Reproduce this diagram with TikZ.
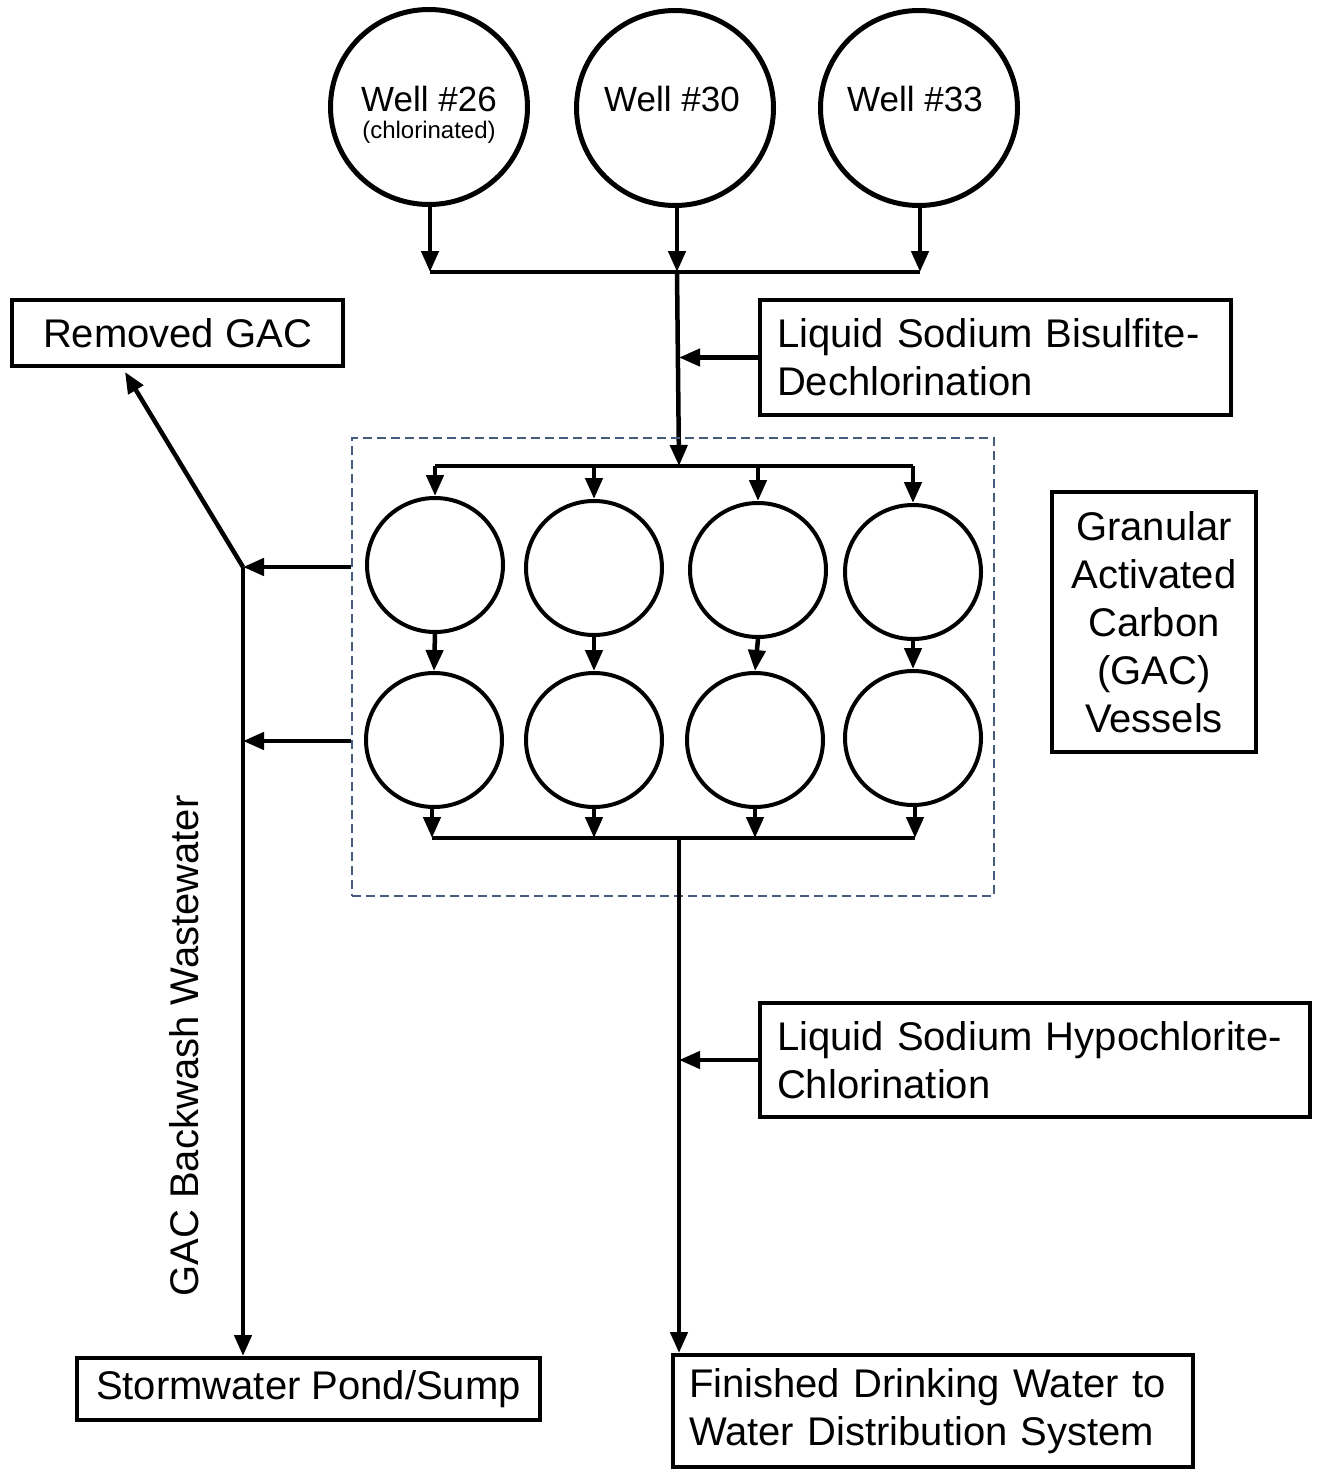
\documentclass[tikz,border=0pt]{standalone}
\usepackage{fontspec}
\setmainfont{Liberation Sans}
\usetikzlibrary{arrows.meta,shapes.geometric}
\begin{document}
\begin{tikzpicture}[x=1pt,y=-1pt,
  flow/.style={line width=4.5pt},
  arr/.style={line width=4.5pt,-{Triangle[length=21pt,width=17pt]}},
  well/.style={draw,ellipse,line width=5pt,minimum width=197pt,minimum height=195pt,inner sep=0pt},
  vessel/.style={draw,ellipse,line width=4pt,minimum width=136pt,minimum height=134pt,inner sep=0pt},
  box/.style={draw,line width=4pt,inner sep=0pt,font=\fontsize{40}{48}\selectfont},
  welltext/.style={font=\fontsize{35}{40}\selectfont,anchor=base,inner sep=0pt},
  smalltext/.style={font=\fontsize{24}{28}\selectfont,anchor=base,inner sep=0pt},
  frame/.style={draw={rgb,255:red,70;green,92;blue,125},dashed,line width=1.8pt,dash pattern=on 9pt off 5pt,inner sep=0pt}
]
\useasboundingbox (0,0) rectangle (1318,1469);

% wells
\node[well] (w26) at (429,107) {};
\node[well] (w30) at (675,108) {};
\node[well] (w33) at (919,108) {};
\node[welltext] (w26t) at (429,112) {Well \#26};
\node[smalltext] (w26s) at (429,139) {(chlorinated)};
\node[welltext] (w30t) at (672,112) {Well \#30};
\node[welltext] (w33t) at (915,112) {Well \#33};

% collector bus
\coordinate (b1L) at (430,272);
\coordinate (b1C) at (677,272);
\coordinate (b1R) at (920,272);
\draw[flow] (b1L) -- (b1R);
\draw[arr] (w26.south -| b1L) -- (b1L);
\draw[arr] (w30.south -| b1C) -- (b1C);
\draw[arr] (w33.south -| b1R) -- (b1R);

% distribution bar
\coordinate (b2C) at (679,466);
\coordinate (b2L) at (435,466);
\coordinate (b2R) at (913,466);
\draw[arr] (b1C) -- (b2C);
\draw[flow] (b2L) -- (b2R);

% boxes
\node[box,minimum width=331pt,minimum height=66pt] (removed) at (177.5,333) {Removed GAC};
\node[box,minimum width=471pt,minimum height=115pt,text width=437pt,align=left] (bis) at (995.5,357.5) {Liquid Sodium Bisulfite-\\Dechlorination};
\node[box,minimum width=204pt,minimum height=260pt,align=center] (gacbox) at (1154,622) {Granular\\Activated\\Carbon\\(GAC)\\Vessels};
\node[box,minimum width=550pt,minimum height=114pt,text width=516pt,align=left] (hypo) at (1035,1060) {Liquid Sodium Hypochlorite-\\Chlorination};
\node[box,minimum width=463pt,minimum height=62pt] (storm) at (308.5,1389) {Stormwater Pond/Sump};
\node[box,minimum width=520pt,minimum height=112pt,text width=488pt,align=left] (fin) at (933,1411) {Finished Drinking Water to\\Water Distribution System};

\draw[arr] (bis.west) -- (bis.west -| b2C);

% GAC frame
\node[frame,minimum width=642pt,minimum height=458pt] (gacframe) at (673,667) {};

% vessels
\node[vessel] (v11) at (435,565) {};
\node[vessel] (v12) at (594,568) {};
\node[vessel] (v13) at (758,570) {};
\node[vessel] (v14) at (913,572) {};
\node[vessel] (v21) at (434,740) {};
\node[vessel] (v22) at (594,740) {};
\node[vessel] (v23) at (755,740) {};
\node[vessel] (v24) at (913,738) {};

\draw[arr] (b2L) -- (v11.north);
\draw[arr] (v12.north |- b2L) -- (v12.north);
\draw[arr] (v13.north |- b2L) -- (v13.north);
\draw[arr] (b2R) -- (v14.north);

\draw[arr] (v11.south) -- (v21.north);
\draw[arr] (v12.south) -- (v22.north);
\draw[arr] (v13.south) -- (v23.north);
\draw[arr] (v14.south) -- (v24.north);

% collection bar
\coordinate (b3L) at (432,838);
\coordinate (b3R) at (915,838);
\draw[flow] (b3L) -- (b3R);
\draw[arr] (v21.south -| b3L) -- (b3L);
\draw[arr] (v22.south) -- (v22.south |- b3L);
\draw[arr] (v23.south) -- (v23.south |- b3L);
\draw[arr] (v24.south -| b3R) -- (b3R);

% output line
\coordinate (out) at (679,838);
\draw[arr] (out) -- (out |- fin.north);
\draw[arr] (hypo.west) -- (hypo.west -| out);

% backwash
\coordinate (j1) at (243,567);
\coordinate (j2) at (243,741);
\coordinate (rtip) at (125,372);
\draw[arr] (gacframe.west |- j1) -- (j1);
\draw[arr] (gacframe.west |- j2) -- (j2);
\draw[arr] (j1) -- (rtip);
\draw[arr] (j1) -- (j1 |- storm.north);
\node[rotate=90,font=\fontsize{40}{48}\selectfont,inner sep=0pt] (bwlabel) at (184,1046) {GAC Backwash Wastewater};
\end{tikzpicture}
\end{document}
